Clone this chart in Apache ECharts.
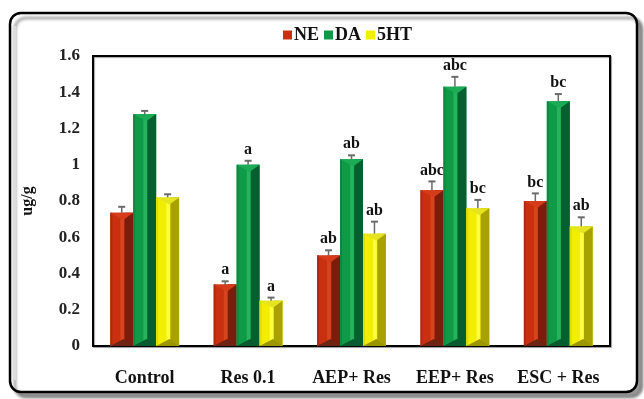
<!DOCTYPE html>
<html>
<head>
<meta charset="utf-8">
<script src="https://cdn.jsdelivr.net/npm/echarts@6/dist/echarts.min.js"></script>
<style>
  html, body { margin: 0; padding: 0; background: #ffffff; }
  #chart { width: 644px; height: 399px; }
</style>
</head>
<body>
<div id="chart"></div>
<script>
// Monoamine levels (ug/g) per treatment group
const categories = ['Control', 'Res 0.1', 'AEP+ Res', 'EEP+ Res', 'ESC + Res'];
const seriesNames = ['NE', 'DA', '5HT'];

const neValues = [0.735, 0.34, 0.50, 0.86, 0.80];
const daValues = [1.28, 1.00, 1.03, 1.43, 1.35];
const htValues = [0.82, 0.25, 0.62, 0.76, 0.66];

const neErrors = [0.033, 0.017, 0.028, 0.048, 0.042];
const daErrors = [0.017, 0.022, 0.022, 0.055, 0.040];
const htErrors = [0.017, 0.017, 0.066, 0.046, 0.050];

const neLetters = ['', 'a', 'ab', 'abc', 'bc'];
const daLetters = ['', 'a', 'ab', 'abc', 'bc'];
const htLetters = ['', 'a', 'ab', 'bc', 'ab'];

const yTicks = { min: 0, max: 1.6, interval: 0.2 };

// Bevelled bar shades: main face, left edge, highlight, dark right face, top and bottom caps
const palettes = [
  { main: '#c8300f', edge: '#b02a10', hi: '#d8441e', dark: '#7c1c0c', top: '#d63c1a', bottom: '#6e2414' },
  { main: '#0f9a48', edge: '#0c8840', hi: '#27b25c', dark: '#055f2e', top: '#1dac56', bottom: '#0a5a30' },
  { main: '#f2ee00', edge: '#dedc00', hi: '#fcfc40', dark: '#a8a200', top: '#e6e420', bottom: '#9c9600' }
];

const serif = '"Liberation Serif", "Times New Roman", serif';

function makeRenderer(si, errors, letters) {
  const pal = palettes[si];
  return function (params, api) {
    const i = params.dataIndex;
    const v = api.value(1);
    const base = api.coord([api.value(0), 0]);
    const top = api.coord([api.value(0), v]);
    const errTop = api.coord([api.value(0), v + errors[i]]);
    const band = api.size([1, 0])[0];
    const w = band * 0.222;
    const cx = base[0] + (si - 1) * w;
    const x0 = cx - w / 2, x1 = cx + w / 2;
    const yt = top[1], yb = base[1];
    const h = yb - yt;
    const cap = Math.min(7, h / 2);
    const ax = x0 + w * 0.58;
    const children = [
      { type: 'rect', shape: { x: x0, y: yt, width: w, height: h }, style: { fill: pal.main } },
      { type: 'rect', shape: { x: x0, y: yt, width: 2, height: h }, style: { fill: pal.edge } },
      { type: 'rect', shape: { x: x0 + w * 0.44, y: yt, width: w * 0.16, height: h }, style: { fill: pal.hi } },
      { type: 'rect', shape: { x: x0 + w * 0.62, y: yt, width: w * 0.38, height: h }, style: { fill: pal.dark } },
      { type: 'polygon', shape: { points: [[x0, yt], [x1, yt], [ax, yt + cap]] }, style: { fill: pal.top } },
      { type: 'polygon', shape: { points: [[x0, yb], [x1, yb], [ax, yb - cap]] }, style: { fill: pal.bottom } },
      // error bar
      { type: 'line', shape: { x1: cx, y1: yt, x2: cx, y2: errTop[1] }, style: { stroke: '#6a6a6a', lineWidth: 1.5 } },
      { type: 'line', shape: { x1: cx - 3.5, y1: errTop[1], x2: cx + 3.5, y2: errTop[1] }, style: { stroke: '#6a6a6a', lineWidth: 2 } }
    ];
    if (letters[i]) {
      children.push({
        type: 'text',
        style: {
          x: cx, y: errTop[1] - 3,
          text: letters[i],
          fill: '#111',
          font: 'bold 16px ' + serif,
          textAlign: 'center',
          textVerticalAlign: 'bottom'
        }
      });
    }
    return { type: 'group', children: children };
  };
}

const valueSets = [neValues, daValues, htValues];
const errorSets = [neErrors, daErrors, htErrors];
const letterSets = [neLetters, daLetters, htLetters];

const series = seriesNames.map(function (name, si) {
  return {
    name: name,
    type: 'custom',
    renderItem: makeRenderer(si, errorSets[si], letterSets[si]),
    itemStyle: { color: palettes[si].main },
    encode: { x: 0, y: 1 },
    data: valueSets[si].map(function (v, i) { return [i, v]; }),
    z: 3
  };
});

const chart = echarts.init(document.getElementById('chart'), null, { renderer: 'canvas' });
chart.setOption({
  backgroundColor: '#ffffff',
  animation: false,
  graphic: [
    {
      type: 'rect', z: -10, silent: true,
      shape: { x: 10, y: 13, width: 627, height: 379, r: 11 },
      style: {
        fill: '#ffffff', stroke: '#000000', lineWidth: 2.5,
        shadowColor: 'rgba(0,0,0,0.4)', shadowBlur: 3, shadowOffsetX: 5, shadowOffsetY: 5
      }
    },
    {
      type: 'line', z: -9, silent: true,
      shape: { x1: 14.5, y1: 26, x2: 14.5, y2: 380 },
      style: { stroke: '#dcdcdc', lineWidth: 3 }
    }
  ],
  legend: {
    top: 21,
    left: 278,
    itemWidth: 9,
    itemHeight: 9,
    itemGap: 5,
    icon: 'rect',
    textStyle: { fontFamily: serif, fontWeight: 'bold', fontSize: 18, color: '#111', padding: [0, 0, 0, -3] },
    data: seriesNames
  },
  grid: {
    left: 93, right: 34, top: 56, bottom: 53,
    show: true, borderColor: '#000', borderWidth: 2, backgroundColor: '#fff',
    shadowColor: 'rgba(0,0,0,0.35)', shadowBlur: 1, shadowOffsetX: 1, shadowOffsetY: 1
  },
  xAxis: {
    type: 'category',
    data: categories,
    axisLine: { show: true, lineStyle: { color: '#000', width: 2 } },
    axisTick: { show: false },
    axisLabel: {
      interval: 0, hideOverlap: false, margin: 23,
      fontFamily: serif, fontWeight: 'bold', fontSize: 18, color: '#111'
    },
    splitLine: { show: false }
  },
  yAxis: {
    type: 'value',
    min: yTicks.min, max: yTicks.max, interval: yTicks.interval,
    name: 'ug/g',
    nameLocation: 'middle',
    nameGap: 57,
    nameRotate: 90,
    nameTextStyle: { fontFamily: serif, fontWeight: 'bold', fontSize: 16, color: '#111' },
    axisLine: { show: false },
    axisTick: { show: false },
    splitLine: { show: false },
    axisLabel: { margin: 13, fontFamily: serif, fontWeight: 'bold', fontSize: 17, color: '#222' }
  },
  series: series
});
</script>
</body>
</html>
